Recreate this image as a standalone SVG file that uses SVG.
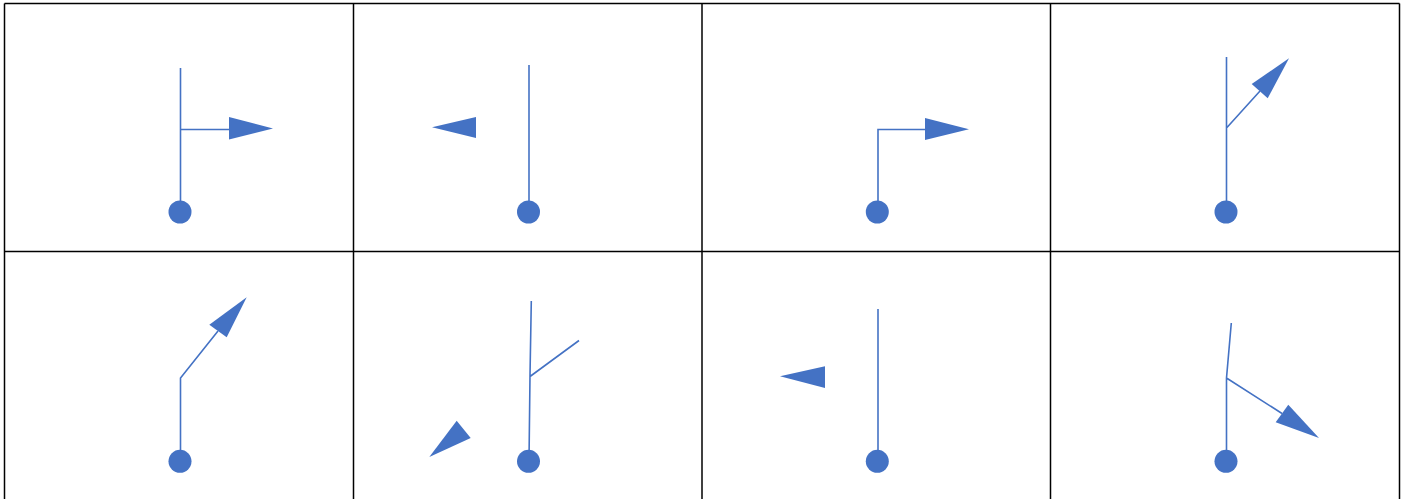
<svg xmlns="http://www.w3.org/2000/svg" width="1405" height="499" viewBox="0 0 1405 499">
<style>
.grid{stroke:#000;stroke-width:1.5;fill:none}
.ln{stroke:#4472C4;stroke-width:1.6;fill:none}
.dot{fill:#4472C4}
.tri{fill:#4472C4}
</style>
<rect x="0" y="0" width="1405" height="499" fill="#fff"/>
<g id="grid" class="grid">
<line x1="4.5" y1="3.5" x2="1399.5" y2="3.5"/>
<line x1="4.5" y1="251.5" x2="1399.5" y2="251.5"/>
<line x1="4.5" y1="3.5" x2="4.5" y2="499"/>
<line x1="353.5" y1="3.5" x2="353.5" y2="499"/>
<line x1="702" y1="3.5" x2="702" y2="499"/>
<line x1="1050.5" y1="3.5" x2="1050.5" y2="499"/>
<line x1="1399.5" y1="3.5" x2="1399.5" y2="499"/>
</g>
<g id="connectors">
<path class="ln" d="M180.5,68 V212 M180.5,129.5 H230"/>
<path class="ln" d="M529,65 V212"/>
<path class="ln" d="M878,212 V129.5 H926"/>
<path class="ln" d="M1226.5,57 V212 M1226.5,128 L1260,91"/>
<path class="ln" d="M180.5,461 V378 L218,331"/>
<path class="ln" d="M531.3,301 L530,376 L529,461 M530,376.5 L579,340.5"/>
<path class="ln" d="M878,309 V461"/>
<path class="ln" d="M1231.3,323 L1226.5,378 V461 M1226.5,378 L1282,413.5"/>
</g>
<g id="n1"><circle class="dot" cx="180" cy="212" r="11.5"/><polygon class="tri" points="229,117 229,139.5 273,128.5"/></g>
<g id="n2"><circle class="dot" cx="528.5" cy="212" r="11.5"/><polygon class="tri" points="432,127.3 476,117 476,138"/></g>
<g id="n3"><circle class="dot" cx="877.3" cy="212" r="11.5"/><polygon class="tri" points="925,118 925,140 969,129.3"/></g>
<g id="n4"><circle class="dot" cx="1226" cy="212" r="11.5"/><polygon class="tri" points="1251.7,84 1267.7,98.3 1289,58.3"/></g>
<g id="n5"><circle class="dot" cx="180" cy="461.3" r="11.5"/><polygon class="tri" points="209.3,324.7 226.7,337.3 246.7,297.3"/></g>
<g id="n6"><circle class="dot" cx="528.5" cy="461.3" r="11.5"/><polygon class="tri" points="429.3,457 456.7,420.7 470.7,438"/></g>
<g id="n7"><circle class="dot" cx="877.3" cy="461.3" r="11.5"/><polygon class="tri" points="780,376.3 825,366.3 825,388"/></g>
<g id="n8"><circle class="dot" cx="1226" cy="461.3" r="11.5"/><polygon class="tri" points="1275.7,422.3 1288.3,404.7 1319,438"/></g>
</svg>
